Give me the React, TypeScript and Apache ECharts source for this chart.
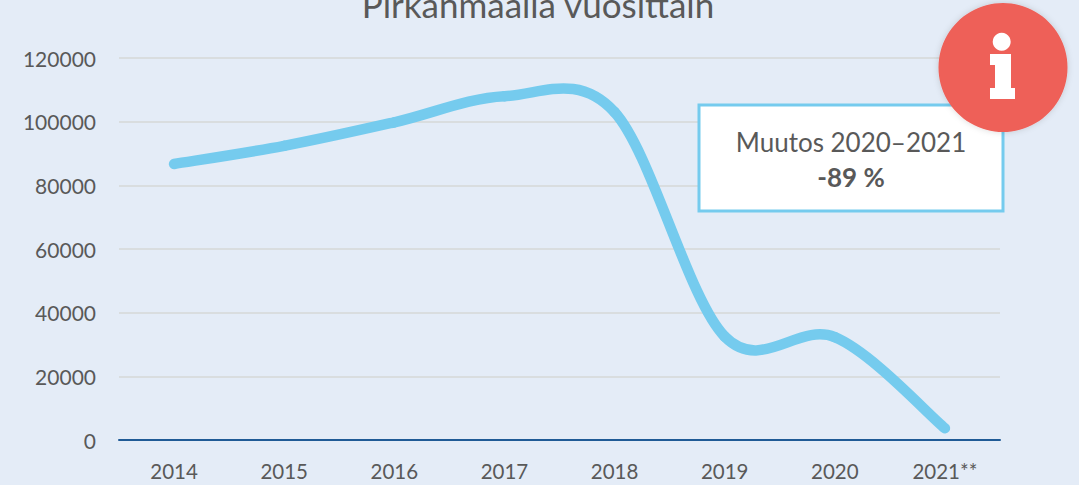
import React, { useEffect, useRef } from "react";
import * as echarts from "echarts";

const years = ["2014", "2015", "2016", "2017", "2018", "2019", "2020", "2021**"];
const values = [86700, 92400, 99800, 108000, 103000, 32500, 32300, 3700];
const titleText = "Pirkanmaalla vuosittain";
const noteLine1 = "Muutos 2020–2021";
const noteLine2 = "-89 %";

const FONT = "Lato, Carlito, sans-serif";
const GREY = "#595959";
const K = 1 / 6;

export default function App() {
  const ref = useRef<HTMLDivElement>(null);
  useEffect(() => {
    document.body.style.margin = "0";
    const chart = echarts.init(ref.current!, null, { renderer: "svg" });
    chart.setOption({
      animation: false,
      backgroundColor: "#E4ECF7",
      title: {
        text: titleText,
        left: 533,
        top: -19,
        textAlign: "center",
        textStyle: { fontFamily: FONT, fontSize: 35, fontWeight: "normal", color: GREY },
      },
      grid: { left: 119, right: 79, top: 58, bottom: 45, containLabel: false },
      xAxis: {
        type: "category",
        data: years,
        boundaryGap: true,
        axisTick: { show: false },
        axisLine: { show: true, lineStyle: { color: "#1F5A96", width: 2 } },
        axisLabel: { fontFamily: FONT, fontSize: 20.5, color: GREY, margin: 20 },
      },
      yAxis: {
        type: "value",
        min: 0,
        max: 120000,
        interval: 20000,
        axisLine: { show: false },
        axisTick: { show: false },
        splitLine: { lineStyle: { color: "#D9DDDF", width: 2 } },
        axisLabel: {
          fontFamily: FONT,
          fontSize: 21,
          color: GREY,
          margin: 23,
          formatter: (v: number) => String(v),
        },
      },
      series: [
        {
          type: "custom",
          silent: true,
          clip: false,
          z: 3,
          encode: { x: 0, y: 1 },
          data: values.map((v, i) => [i, v]),
          renderItem: (params: any, api: any) => {
            const i = params.dataIndex;
            if (i >= values.length - 1) return { type: "group", children: [] };
            const pt = (n: number) => {
              const j = Math.max(0, Math.min(values.length - 1, n));
              return api.coord([j, values[j]]) as number[];
            };
            const p0 = pt(i - 1), p1 = pt(i), p2 = pt(i + 1), p3 = pt(i + 2);
            const c1 = [p1[0] + (p2[0] - p0[0]) * K, p1[1] + (p2[1] - p0[1]) * K];
            const c2 = [p2[0] - (p3[0] - p1[0]) * K, p2[1] - (p3[1] - p1[1]) * K];
            return {
              type: "path",
              shape: {
                pathData: `M${p1[0]} ${p1[1]}C${c1[0]} ${c1[1]} ${c2[0]} ${c2[1]} ${p2[0]} ${p2[1]}`,
              },
              style: { fill: "none", stroke: "#75CBEE", lineWidth: 10.5, lineCap: "round" },
            };
          },
        },
      ],
      graphic: [
        {
          type: "rect",
          z: 10,
          shape: { x: 699, y: 105, width: 304, height: 106 },
          style: { fill: "#FFFFFF", stroke: "#75CBEE", lineWidth: 3 },
        },
        {
          type: "text",
          z: 11,
          x: 851,
          y: 142,
          style: { text: noteLine1, fontFamily: FONT, fontSize: 26, fill: GREY, align: "center", verticalAlign: "middle" },
        },
        {
          type: "text",
          z: 11,
          x: 851,
          y: 177,
          style: { text: noteLine2, fontFamily: FONT, fontSize: 26, fontWeight: "bold", fill: GREY, align: "center", verticalAlign: "middle" },
        },
        {
          type: "circle",
          z: 12,
          shape: { cx: 1003, cy: 67.5, r: 64.5 },
          style: { fill: "#EE6058", shadowBlur: 6, shadowColor: "rgba(0,0,0,0.15)" },
        },
        { type: "circle", z: 13, shape: { cx: 1001.7, cy: 41.7, r: 9 }, style: { fill: "#FFFFFF" } },
        {
          type: "polygon",
          z: 13,
          shape: {
            points: [[990, 54], [1011, 54], [1011, 88], [1015, 88], [1015, 99], [990, 99], [990, 88], [995, 88], [995, 65], [990, 65]],
          },
          style: { fill: "#FFFFFF" },
        },
      ],
    });
    return () => chart.dispose();
  }, []);
  return <div ref={ref} style={{ width: 1079, height: 485 }} />;
}
